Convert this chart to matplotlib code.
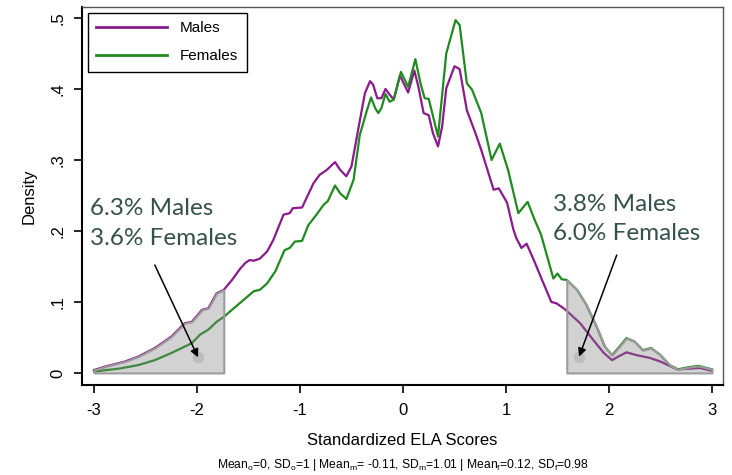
import numpy as np
import matplotlib
matplotlib.use("Agg")
import matplotlib.pyplot as plt

plt.rcParams['font.family'] = ['Liberation Sans', 'DejaVu Sans']
plt.rcParams['mathtext.fontset'] = 'custom'
plt.rcParams['mathtext.rm'] = 'Liberation Sans'
plt.rcParams['mathtext.it'] = 'Liberation Sans'

# density curves
males_x = [-3.00, -2.89, -2.70, -2.57, -2.41, -2.25, -2.12, -2.05, -1.95, -1.89,
           -1.81, -1.74, -1.66, -1.58, -1.53, -1.49, -1.45, -1.39, -1.32, -1.26,
           -1.16, -1.10, -1.07, -0.98, -0.87, -0.81, -0.74, -0.66, -0.61, -0.55,
           -0.50, -0.43, -0.37, -0.32, -0.29, -0.25, -0.21, -0.17, -0.13, -0.09,
           -0.03, 0.05, 0.11, 0.15, 0.20, 0.25, 0.29, 0.34, 0.38, 0.42,
           0.50, 0.55, 0.62, 0.70, 0.76, 0.88, 0.93, 1.01, 1.07, 1.10,
           1.15, 1.20, 1.27, 1.35, 1.44, 1.49, 1.56, 1.60, 1.72, 1.85,
           1.95, 2.03, 2.09, 2.17, 2.27, 2.40, 2.50, 2.66, 2.79, 2.88, 3.00]
males_y = [0.004, 0.009, 0.016, 0.023, 0.035, 0.051, 0.070, 0.072, 0.089, 0.091,
           0.112, 0.117, 0.131, 0.147, 0.155, 0.159, 0.158, 0.161, 0.171, 0.187,
           0.223, 0.225, 0.232, 0.233, 0.267, 0.279, 0.286, 0.297, 0.286, 0.277,
           0.291, 0.347, 0.394, 0.411, 0.406, 0.387, 0.387, 0.400, 0.392, 0.385,
           0.419, 0.395, 0.426, 0.403, 0.366, 0.363, 0.338, 0.319, 0.347, 0.401,
           0.432, 0.428, 0.370, 0.339, 0.314, 0.258, 0.260, 0.240, 0.203, 0.190,
           0.176, 0.182, 0.159, 0.131, 0.100, 0.098, 0.091, 0.086, 0.070, 0.046,
           0.028, 0.018, 0.023, 0.029, 0.025, 0.021, 0.016, 0.005, 0.006, 0.007, 0.003]

females_x = [-3.00, -2.76, -2.57, -2.41, -2.25, -2.12, -2.05, -1.97, -1.89, -1.81,
             -1.74, -1.66, -1.53, -1.45, -1.39, -1.32, -1.24, -1.15, -1.10, -1.05,
             -0.98, -0.92, -0.84, -0.77, -0.73, -0.66, -0.61, -0.55, -0.48, -0.42,
             -0.35, -0.31, -0.27, -0.24, -0.21, -0.17, -0.13, -0.09, -0.02, 0.05,
             0.12, 0.17, 0.21, 0.25, 0.34, 0.42, 0.51, 0.55, 0.62, 0.67,
             0.76, 0.86, 0.94, 1.02, 1.12, 1.21, 1.28, 1.34, 1.40, 1.46,
             1.50, 1.54, 1.59, 1.69, 1.78, 1.88, 1.96, 2.03, 2.09, 2.17,
             2.25, 2.33, 2.41, 2.50, 2.59, 2.67, 2.77, 2.87, 3.00]
females_y = [0.002, 0.006, 0.011, 0.018, 0.028, 0.037, 0.042, 0.054, 0.061, 0.072,
             0.079, 0.089, 0.105, 0.115, 0.117, 0.126, 0.143, 0.173, 0.176, 0.185,
             0.186, 0.208, 0.223, 0.237, 0.242, 0.264, 0.253, 0.245, 0.272, 0.335,
             0.370, 0.388, 0.373, 0.366, 0.373, 0.393, 0.382, 0.385, 0.424, 0.403,
             0.442, 0.408, 0.387, 0.386, 0.333, 0.450, 0.497, 0.490, 0.408, 0.399,
             0.366, 0.300, 0.323, 0.286, 0.225, 0.241, 0.215, 0.195, 0.164, 0.133,
             0.140, 0.132, 0.131, 0.117, 0.096, 0.065, 0.037, 0.025, 0.035, 0.049,
             0.044, 0.032, 0.035, 0.025, 0.011, 0.005, 0.008, 0.010, 0.005]

low_cut = -1.74
high_cut = 1.59
low_text = "6.3% Males\n3.6% Females"
high_text = "3.8% Males\n6.0% Females"
subtitle = (r"Mean$_\mathrm{o}$=0, SD$_\mathrm{o}$=1 | Mean$_\mathrm{m}$= -0.11, "
            r"SD$_\mathrm{m}$=1.01 | Mean$_\mathrm{f}$=0.12, SD$_\mathrm{f}$=0.98")

mx, my = np.array(males_x), np.array(males_y)
fx, fy = np.array(females_x), np.array(females_y)

fig = plt.figure(figsize=(7.32, 4.75), dpi=100)
ax = fig.add_axes([0.112, 0.1895, 0.8757, 0.7958])

ax.plot(mx, my, color='#8b1a8b', lw=1.6, label='Males', zorder=2)
ax.plot(fx, fy, color='#1f8b1f', lw=1.6, label='Females', zorder=2)

# shaded tails (upper curve in each tail)
m = mx <= low_cut
ax.fill_between(mx[m], 0, my[m], facecolor=(0.5, 0.5, 0.5, 0.35),
                edgecolor='#9c9c9c', lw=1.5, zorder=3)
m = fx >= high_cut
ax.fill_between(fx[m], 0, fy[m], facecolor=(0.5, 0.5, 0.5, 0.35),
                edgecolor='#9c9c9c', lw=1.5, zorder=3)

txt_color = '#35524a'
ax.text(-3.04, 0.2106, low_text, fontsize=17.5, color=txt_color, family='Lato',
        va='center', ha='left', linespacing=1.5)
ax.text(1.456, 0.217, high_text, fontsize=17.5, color=txt_color, family='Lato',
        va='center', ha='left', linespacing=1.5)

for start, end in [((-2.41, 0.152), (-1.99, 0.022)), ((2.075, 0.166), (1.71, 0.023))]:
    ax.scatter([end[0]], [end[1]], s=70, color='gray', alpha=0.25, lw=0, zorder=4)
    ax.annotate('', xy=end, xytext=start, zorder=5,
                arrowprops=dict(arrowstyle='-|>', color='black', lw=1.1,
                                mutation_scale=12, shrinkA=0, shrinkB=0))

ax.set_xlim(-3.117, 3.107)
ax.set_ylim(-0.017, 0.5155)
ax.set_xticks([-3, -2, -1, 0, 1, 2, 3])
ax.set_xticklabels(['-3', '-2', '-1', '0', '1', '2', '3'])
ax.set_yticks([0, 0.1, 0.2, 0.3, 0.4, 0.5])
ax.set_yticklabels(['0', '.1', '.2', '.3', '.4', '.5'], rotation=90, va='center')
ax.tick_params(direction='out', length=6, width=1.2, labelsize=12, colors='black')
ax.tick_params(axis='x', pad=7)
ax.tick_params(axis='y', pad=6)

for s in ['left', 'bottom']:
    ax.spines[s].set_linewidth(1.5)
    ax.spines[s].set_color('black')
for s in ['top', 'right']:
    ax.spines[s].set_linewidth(1.0)
    ax.spines[s].set_color('#555555')

ax.set_ylabel('Density', fontsize=12, labelpad=10)
ax.set_xlabel('Standardized ELA Scores', fontsize=12, labelpad=11)
fig.text(0.5505, 0.021, subtitle, fontsize=8.7, ha='center', va='center')

leg = ax.legend(loc='upper left', bbox_to_anchor=(0.009, 0.984), fontsize=11,
                handlelength=4.65, handletextpad=0.85, labelspacing=0.9,
                borderpad=0.55, borderaxespad=0, fancybox=False, framealpha=1)
leg.get_frame().set_edgecolor('black')
leg.get_frame().set_linewidth(1.0)
for line in leg.get_lines():
    line.set_linewidth(2)

fig.savefig('out.png', dpi=100)
